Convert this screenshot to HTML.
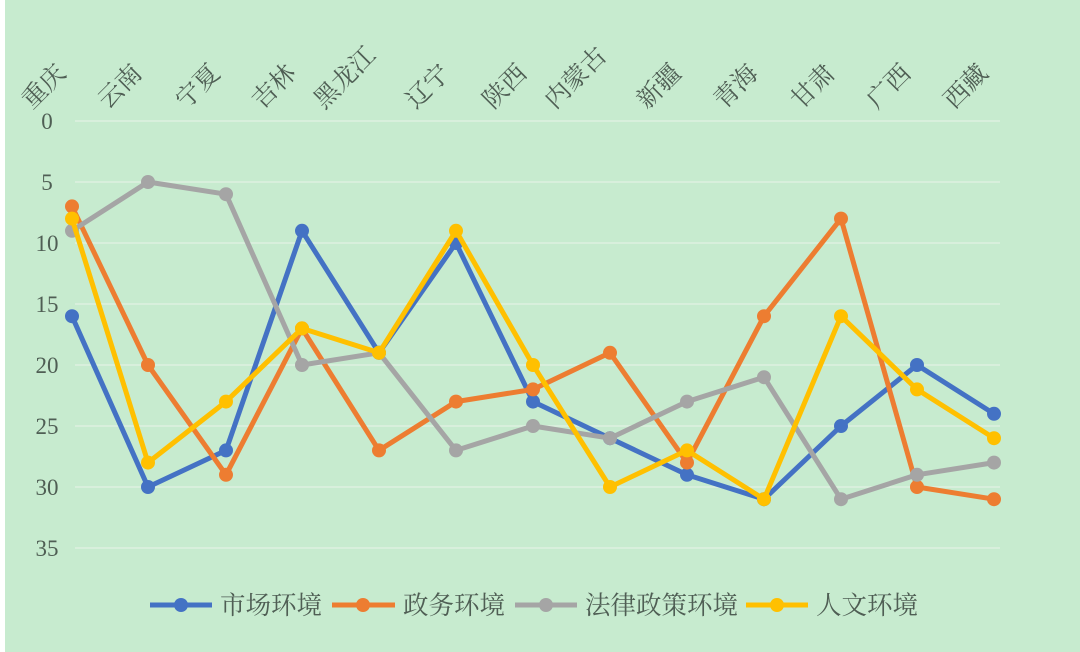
<!DOCTYPE html>
<html><head><meta charset="utf-8"><style>
html,body{margin:0;padding:0;background:#fff;}
svg{display:block;}
text{font-family:"Liberation Serif","Noto Serif CJK SC",serif;fill:#4f5e54;}
</style></head><body>
<svg width="1080" height="652" viewBox="0 0 1080 652" xmlns="http://www.w3.org/2000/svg">
<rect x="5" y="0" width="1075" height="652" fill="#c7ebcf"/>
<g stroke="#d8efdc" stroke-width="2">
<line x1="75" x2="1000" y1="121" y2="121"/><line x1="75" x2="1000" y1="182" y2="182"/>
<line x1="75" x2="1000" y1="243" y2="243"/><line x1="75" x2="1000" y1="304" y2="304"/>
<line x1="75" x2="1000" y1="365" y2="365"/><line x1="75" x2="1000" y1="426" y2="426"/>
<line x1="75" x2="1000" y1="487" y2="487"/><line x1="75" x2="1000" y1="548" y2="548"/>
</g>
<g font-size="23" text-anchor="middle">
<text x="47" y="129">0</text><text x="47" y="190">5</text><text x="47" y="251">10</text>
<text x="47" y="312">15</text><text x="47" y="373">20</text><text x="47" y="434">25</text>
<text x="47" y="495">30</text><text x="47" y="556">35</text>
</g>
<g font-size="25" id="labels"></g>
<g id="series"></g>
<g font-size="25.5">
<line x1="150" x2="212" y1="605" y2="605" stroke="#4472c4" stroke-width="5"/><circle cx="181" cy="605" r="7" fill="#4472c4"/>
<text x="220" y="614">市场环境</text>
<line x1="332" x2="395" y1="605" y2="605" stroke="#ed7d31" stroke-width="5"/><circle cx="363" cy="605" r="7" fill="#ed7d31"/>
<text x="403" y="614">政务环境</text>
<line x1="515" x2="577" y1="605" y2="605" stroke="#a5a5a5" stroke-width="5"/><circle cx="546" cy="605" r="7" fill="#a5a5a5"/>
<text x="585" y="614">法律政策环境</text>
<line x1="746" x2="808" y1="605" y2="605" stroke="#ffc000" stroke-width="5"/><circle cx="777" cy="605" r="7" fill="#ffc000"/>
<text x="816" y="614">人文环境</text>
</g>
</svg>
<script>
var xs=[72,148,226,302,379,456,533,610,687,764,841,917,994];
var names=["重庆","云南","宁夏","吉林","黑龙江","辽宁","陕西","内蒙古","新疆","青海","甘肃","广西","西藏"];
var ns="http://www.w3.org/2000/svg";
var lg=document.getElementById("labels");
names.forEach(function(n,i){var t=document.createElementNS(ns,"text");var x=xs[i]-(n.length==3?55:40),y=110;
t.setAttribute("x",x);t.setAttribute("y",y);t.setAttribute("transform","rotate(-45 "+x+" "+y+")");t.textContent=n;lg.appendChild(t);});
var data=[["#4472c4",[16,30,27,9,19,10,23,26,29,31,25,20,24]],
["#ed7d31",[7,20,29,17,27,23,22,19,28,16,8,30,31]],
["#a5a5a5",[9,5,6,20,19,27,25,26,23,21,31,29,28]],
["#ffc000",[8,28,23,17,19,9,20,30,27,31,16,22,26]]];
var sg=document.getElementById("series");
data.forEach(function(d){var pts=d[1].map(function(v,i){return xs[i]+","+(121+v*12.2).toFixed(1);});
var p=document.createElementNS(ns,"polyline");p.setAttribute("points",pts.join(" "));p.setAttribute("fill","none");
p.setAttribute("stroke",d[0]);p.setAttribute("stroke-width","5");p.setAttribute("stroke-linejoin","round");sg.appendChild(p);
d[1].forEach(function(v,i){var c=document.createElementNS(ns,"circle");c.setAttribute("cx",xs[i]);c.setAttribute("cy",121+v*12.2);c.setAttribute("r","7");c.setAttribute("fill",d[0]);sg.appendChild(c);});});
</script>
</body></html>
